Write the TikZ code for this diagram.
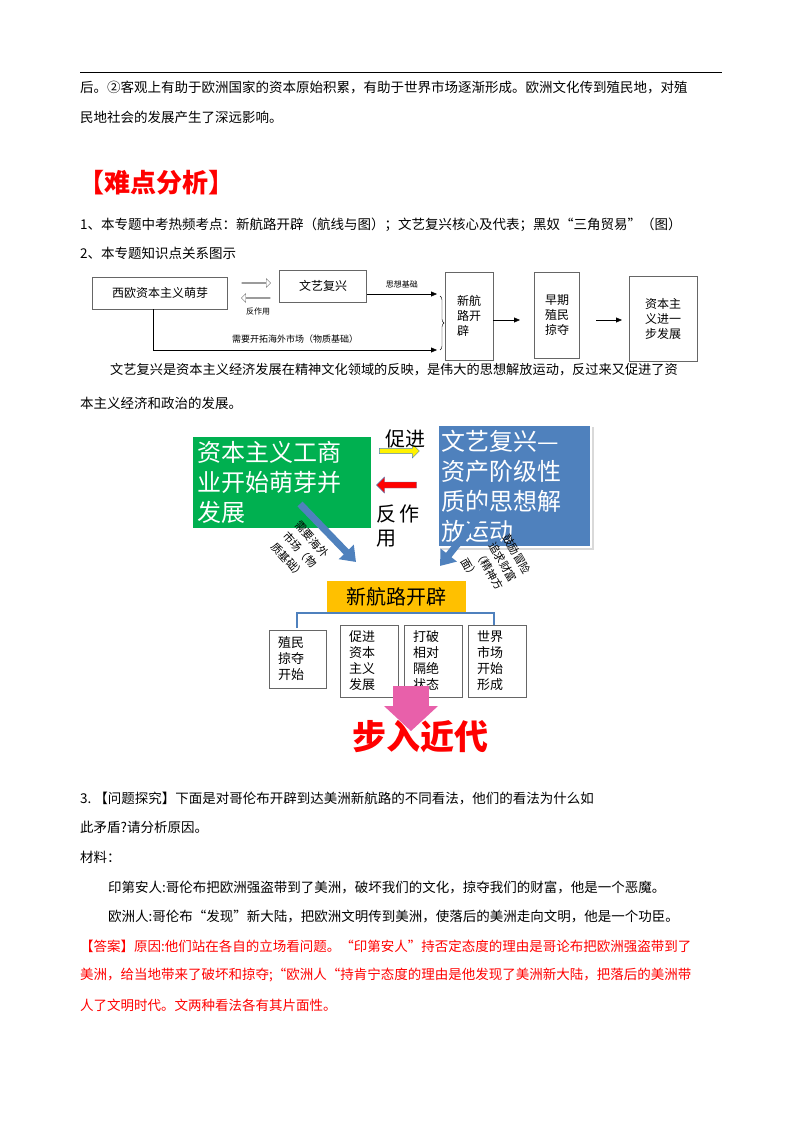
\documentclass[tikz,border=0pt]{standalone}
\usepackage{fontspec}
\setmainfont{Noto Sans CJK SC}
\usetikzlibrary{positioning, arrows.meta, calc, decorations.pathreplacing, shapes.arrows}
\definecolor{pptgreen}{RGB}{0,176,80}
\definecolor{pptblue}{RGB}{79,129,189}
\definecolor{pptorange}{RGB}{255,192,0}
\definecolor{pptpink}{RGB}{232,96,170}
\tikzset{
  txt/.style={anchor=west, inner sep=0pt, font=\fontsize{13.5}{14}\selectfont},
  smallbox/.style={draw=black!60, inner sep=0pt, font=\fontsize{12}{15}\selectfont},
  bigbox/.style={inner sep=0pt, text=white, font=\fontsize{24}{30}\selectfont, align=left},
  leafbox/.style={draw=black!60, fill=white, inner sep=0pt, font=\fontsize{13}{16}\selectfont, align=left},
  tilt/.style={inner sep=0pt, font=\fontsize{11}{16}\selectfont, align=left},
  hollow/.style={single arrow, draw=black!60, fill=white, minimum height=29, minimum width=9, single arrow head extend=2pt, inner sep=0pt}
}
\begin{document}
\begin{tikzpicture}[x=1pt,y=-1pt]
    \useasboundingbox (0,0) rectangle (800,1132);

    % top text
    \draw (80,72) -- (722,72);
    \node[txt] (l1) at (80,87) {后。②客观上有助于欧洲国家的资本原始积累，有助于世界市场逐渐形成。欧洲文化传到殖民地，对殖};
    \node[txt] (l2) at (80,117) {民地社会的发展产生了深远影响。};
    \node[txt, text=red, font=\fontsize{26}{28}\selectfont\bfseries] (title) at (78,183) {【难点分析】};
    \node[txt] (l3) at (80,225) {1、本专题中考热频考点：新航路开辟（航线与图）；文艺复兴核心及代表；黑奴“三角贸易”（图）};
    \node[txt] (l4) at (80,253) {2、本专题知识点关系图示};

    % small diagram
    \node[smallbox, minimum width=135, minimum height=32] (xo) at (160,293) {西欧资本主义萌芽};
    \node[smallbox, minimum width=87, minimum height=32] (wy) at (323,286) {文艺复兴};
    \node[smallbox, minimum width=48, minimum height=88, align=left] (xh) at (469,316) {新航\\路开\\辟};
    \node[smallbox, minimum width=45, minimum height=86, align=left] (zq) at (557,315) {早期\\殖民\\掠夺};
    \node[smallbox, minimum width=68, minimum height=85, align=left] (zb) at (663,319) {资本主\\义进一\\步发展};
    \node[hollow] (cja) at (256,283) {};
    \node[hollow, shape border rotate=180] (fza) at (256,298) {};
    \node[font=\fontsize{8}{9}\selectfont] (fzy) at (258,311) {反作用};
    \coordinate (sx) at (437,294);
    \coordinate (wz) at (437,350);
    \draw[-{Triangle[length=6pt,width=5pt]}] (wy.east |- 0,294) -- (sx) node[midway, above=2pt, font=\fontsize{8}{9}\selectfont] {思想基础};
    \draw[-{Triangle[length=6pt,width=5pt]}] (xo.south -| 153,0) |- (wz) node[pos=0.75, above=3pt, font=\fontsize{9}{10}\selectfont] {需要开拓海外市场（物质基础）};
    \draw[decorate, decoration={brace, amplitude=4pt}] (440,296) -- (440,350);
    \draw[-{Triangle[length=6pt,width=5pt]}] (xh.east |- 0,320) -- (520,320);
    \draw[-{Triangle[length=6pt,width=5pt]}] (596,320) -- (622,320);

    \node[txt, font=\fontsize{13.2}{14}\selectfont] (p1) at (110,370) {文艺复兴是资本主义经济发展在精神文化领域的反映，是伟大的思想解放运动，反过来又促进了资};
    \node[txt] (p2) at (80,403) {本主义经济和政治的发展。};

    % big diagram
    \node[bigbox, fill=pptgreen, minimum width=178, minimum height=91, text width=170] (zbz) at (282,482) {资本主义工商\\业开始萌芽并\\发展};
    \fill[black!15] (440,427) rectangle (594,550);
    \node[bigbox, fill=pptblue, draw=white, line width=2pt, minimum width=153, minimum height=122, text width=147, anchor=north west] (wyf) at (437,424) {文艺复兴—\\资产阶级性\\质的思想解\\放运动};
    \node[single arrow, fill=yellow, draw=pptblue, minimum height=40, minimum width=14, single arrow head extend=2pt, inner sep=1pt] (yarr) at (398,451) {};
    \node[single arrow, fill=red, draw=pptblue, minimum height=40, minimum width=16, single arrow head extend=2pt, inner sep=1pt, shape border rotate=180] (rarr) at (398,485) {};
    \node[font=\fontsize{20}{22}\selectfont] (cj) at (405,439) {促进};
    \node[font=\fontsize{20}{24}\selectfont, align=left] (fz) at (398,526) {反\,作\\用};
    \draw[line width=7pt, draw=pptblue, -{Triangle[length=14pt,width=20pt]}] (300,504) -- (356,562);
    \draw[line width=7pt, draw=pptblue, -{Triangle[length=14pt,width=20pt]}] (487,507) -- (440,566);
    \node[tilt, rotate=-48] (lab1) at (300,550) {需要海外\\市场（物\\质基础）};
    \node[tilt, rotate=-60] (lab2) at (496,566) {鼓励冒险\\追求财富\\（精神方\\面）};

    \node[fill=pptorange, minimum width=139, minimum height=32, inner sep=0pt, font=\fontsize{20}{22}\selectfont] (xhl) at (396,597) {新航路开辟};
    \draw[pptblue, line width=1.5pt] (297,628) -- (297,613) -- (494,613) -- (494,628);
    \draw[pptblue, line width=1.5pt] (xhl.south) -- (396,613);
    \node[leafbox, minimum width=57, minimum height=58, text width=40] (b1) at (298,659) {殖民\\掠夺\\开始};
    \node[leafbox, minimum width=58, minimum height=72, text width=40] (b2) at (369,661) {促进\\资本\\主义\\发展};
    \node[leafbox, minimum width=58, minimum height=72, text width=40] (b3) at (433,661) {打破\\相对\\隔绝\\状态};
    \node[leafbox, minimum width=58, minimum height=72, text width=40] (b4) at (497,661) {世界\\市场\\开始\\形成};
    \fill[pptpink] (393,686) rectangle (429,706);
    \fill[pptpink] (384,706) -- (438,706) -- (411,731) -- cycle;
    \node[text=red, font=\fontsize{34}{36}\selectfont\bfseries] (brjd) at (420,737) {步入近代};

    % question
    \node[txt] (q1) at (80,798) {3.\ 【问题探究】下面是对哥伦布开辟到达美洲新航路的不同看法，他们的看法为什么如};
    \node[txt] (q2) at (80,827) {此矛盾?请分析原因。};
    \node[txt] (q3) at (80,857) {材料：};
    \node[txt] (q4) at (108,887) {印第安人:哥伦布把欧洲强盗带到了美洲，破坏我们的文化，掠夺我们的财富，他是一个恶魔。};
    \node[txt] (q5) at (108,916) {欧洲人:哥伦布“发现”新大陆，把欧洲文明传到美洲，使落后的美洲走向文明，他是一个功臣。};
    \node[txt, text=red] (a1) at (80,946) {【答案】原因:他们站在各自的立场看问题。“印第安人”持否定态度的理由是哥论布把欧洲强盗带到了};
    \node[txt, text=red] (a2) at (80,975) {美洲，给当地带来了破坏和掠夺;“欧洲人“持肯宁态度的理由是他发现了美洲新大陆，把落后的美洲带};
    \node[txt, text=red] (a3) at (80,1005) {人了文明时代。文两种看法各有其片面性。};
\end{tikzpicture}
\end{document}
